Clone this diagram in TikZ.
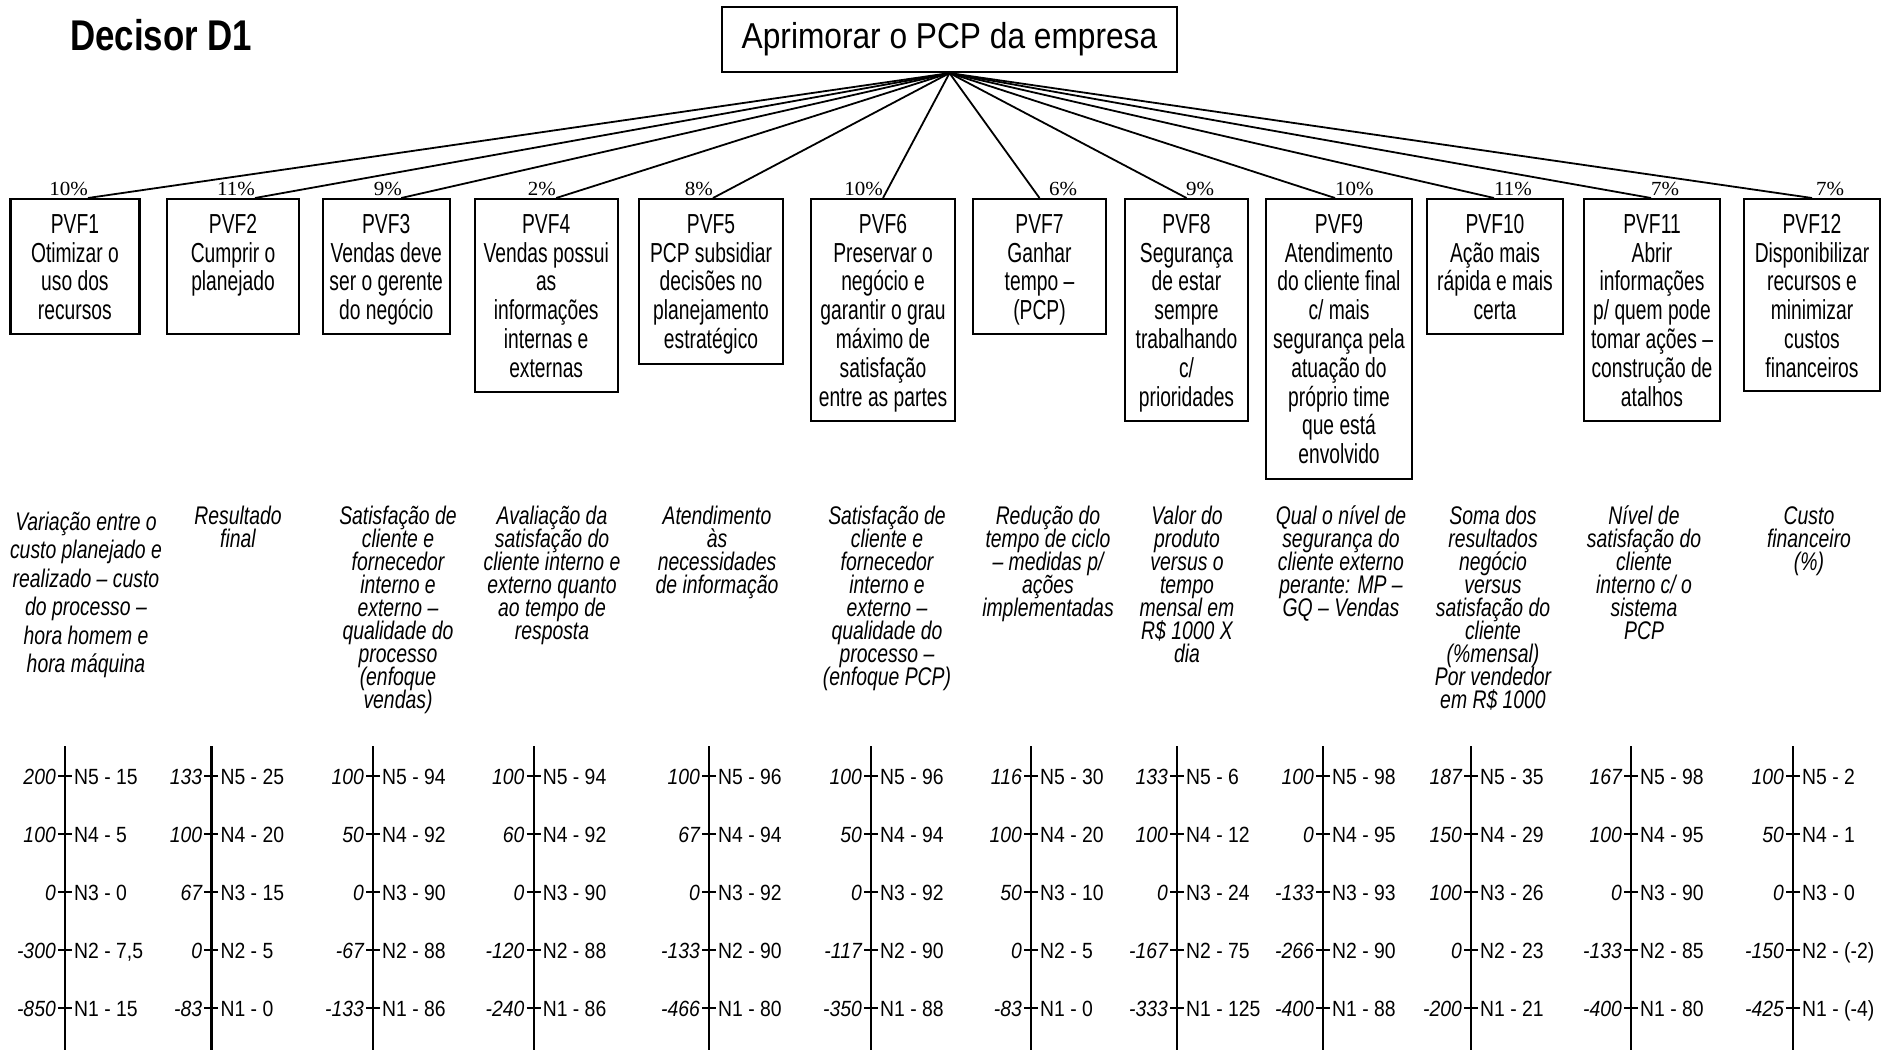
\documentclass[tikz,border=0pt]{standalone}
\usepackage{fontspec}
\setmainfont{Liberation Sans}[FakeStretch=0.88]
\newfontfamily\boxfont{Liberation Sans}[FakeStretch=0.70]
\newfontfamily\critfont{Liberation Sans}[FakeStretch=0.76]
\newfontfamily\titlefont{Liberation Sans}[FakeStretch=0.81]
\newfontfamily\pctfont{Liberation Serif}[FakeStretch=1.05]
\newcommand\firstln{\rule{0pt}{24pt}}
\newcommand\tightlines{\lineskiplimit-100pt\relax}
\newcommand{\scalecol}[3]{%
  \coordinate (ax#1t) at (#2,746);
  \coordinate (ax#1b) at (#2,1050);
  \draw[axis] (ax#1t) -- (ax#1b);
  \foreach \l/\r [count=\k] in {#3} {
    \pgfmathtruncatemacro\lev{6-\k}
    \pgfmathsetmacro\yy{776+(\k-1)*58}
    \coordinate (tk#1x\k) at (#2,\yy);
    \draw[axis] ([xshift=-7pt]tk#1x\k) -- ([xshift=7pt]tk#1x\k);
    \node[lft] (lv#1x\k) at ([xshift=-9pt,yshift=-8pt]tk#1x\k) {\l};
    \node[rgt] (rv#1x\k) at ([xshift=9pt,yshift=-8pt]tk#1x\k) {N\lev\ - \r};
  }
}
\begin{document}
\begin{tikzpicture}[x=1pt,y=-1pt,
  conn/.style={line width=1.8pt},
  topbox/.style={draw, line width=2.2pt, inner sep=0pt, minimum width=455pt, minimum height=65pt, font=\fontsize{36}{40}\selectfont},
  pvfbox/.style={draw, line width=2.2pt, inner sep=0pt, anchor=north},
  pvftext/.style={inner sep=0pt, anchor=north, align=center, font=\boxfont\fontsize{27.5}{28.8}\selectfont\tightlines},
  crit/.style={inner sep=0pt, anchor=north, align=center, font=\critfont\fontsize{25.5}{23}\selectfont\itshape\tightlines},
  pct/.style={inner sep=0pt, font=\pctfont\fontsize{20}{22}\selectfont},
  axis/.style={line width=2.2pt},
  lft/.style={inner sep=0pt, anchor=base east, font=\fontsize{22}{24}\selectfont\itshape},
  rgt/.style={inner sep=0pt, anchor=base west, font=\fontsize{22}{24}\selectfont},
]
\useasboundingbox (0,0) rectangle (1892,1050);

\node[inner sep=0pt, anchor=base west, font=\titlefont\fontsize{43}{46}\selectfont\bfseries] (title) at (70,50) {Decisor D1};
\node[topbox] (top) at (949.5,39.5) {Aprimorar o PCP da empresa};

% PVF boxes
\node[pvfbox, minimum width=129pt, minimum height=135pt] (b1) at (74.9,198) {};
\node[pvfbox, minimum width=132.6pt, minimum height=135pt] (b2) at (233,198) {};
\node[pvfbox, minimum width=127pt, minimum height=135pt] (b3) at (386.2,198) {};
\node[pvfbox, minimum width=143pt, minimum height=193pt] (b4) at (546.2,198) {};
\node[pvfbox, minimum width=144pt, minimum height=165pt] (b5) at (711,198) {};
\node[pvfbox, minimum width=144pt, minimum height=222pt] (b6) at (883,198) {};
\node[pvfbox, minimum width=133pt, minimum height=135pt] (b7) at (1039.5,198) {};
\node[pvfbox, minimum width=123pt, minimum height=222pt] (b8) at (1186.5,198) {};
\node[pvfbox, minimum width=146pt, minimum height=280pt] (b9) at (1339,198) {};
\node[pvfbox, minimum width=136.5pt, minimum height=135pt] (b10) at (1495,198) {};
\node[pvfbox, minimum width=136pt, minimum height=222pt] (b11) at (1652,198) {};
\node[pvfbox, minimum width=136pt, minimum height=192pt] (b12) at (1812,198) {};

\node[pvftext] (t1) at (74.9,209) {\firstln PVF1\\Otimizar o\\uso dos\\recursos};
\node[pvftext] (t2) at (233,209) {\firstln PVF2\\Cumprir o\\planejado};
\node[pvftext] (t3) at (386.2,209) {\firstln PVF3\\Vendas deve\\ser o gerente\\do negócio};
\node[pvftext] (t4) at (546.2,209) {\firstln PVF4\\Vendas possui\\as\\informações\\internas e\\externas};
\node[pvftext] (t5) at (711,209) {\firstln PVF5\\PCP subsidiar\\decisões no\\planejamento\\estratégico};
\node[pvftext] (t6) at (883,209) {\firstln PVF6\\Preservar o\\negócio e\\garantir o grau\\máximo de\\satisfação\\entre as partes};
\node[pvftext] (t7) at (1039.5,209) {\firstln PVF7\\Ganhar\\tempo –\\(PCP)};
\node[pvftext] (t8) at (1186.5,209) {\firstln PVF8\\Segurança\\de estar\\sempre\\trabalhando\\c/\\prioridades};
\node[pvftext] (t9) at (1339,209) {\firstln PVF9\\Atendimento\\do cliente final\\c/ mais\\segurança pela\\atuação do\\próprio time\\que está\\envolvido};
\node[pvftext] (t10) at (1495,209) {\firstln PVF10\\Ação mais\\rápida e mais\\certa};
\node[pvftext] (t11) at (1652,209) {\firstln PVF11\\Abrir\\informações\\p/ quem pode\\tomar ações –\\construção de\\atalhos};
\node[pvftext] (t12) at (1812,209) {\firstln PVF12\\Disponibilizar\\recursos e\\minimizar\\custos\\financeiros};

% connectors
\foreach \n/\dx in {1/13,2/22,3/15,4/10,5/2,6/0,7/0,8/0,9/-4,10/-1,11/-1,12/0}
  \draw[conn] (top.south) -- ([xshift=\dx pt]b\n.north);

% percentages
\node[pct, anchor=base east] (p1) at (88,195) {10\%};
\node[pct, anchor=base east] (p2) at (255,195) {11\%};
\node[pct, anchor=base east] (p3) at (402,195) {9\%};
\node[pct, anchor=base east] (p4) at (556,195) {2\%};
\node[pct, anchor=base east] (p5) at (713,195) {8\%};
\node[pct, anchor=base east] (p6) at (883,195) {10\%};
\node[pct, anchor=base west] (p7) at (1049,195) {6\%};
\node[pct, anchor=base west] (p8) at (1186,195) {9\%};
\node[pct, anchor=base west] (p9) at (1335,195) {10\%};
\node[pct, anchor=base west] (p10) at (1494,195) {11\%};
\node[pct, anchor=base west] (p11) at (1651,195) {7\%};
\node[pct, anchor=base west] (p12) at (1816,195) {7\%};

% criteria
\node[crit, font=\critfont\fontsize{25.5}{28.5}\selectfont\itshape\tightlines] (c1) at (86,506) {\firstln Variação entre o\\custo planejado e\\realizado – custo\\do processo –\\hora homem e\\hora máquina};
\node[crit] (c2) at (238,500) {\firstln Resultado\\final};
\node[crit] (c3) at (398,500) {\firstln Satisfação de\\cliente e\\fornecedor\\interno e\\externo –\\qualidade do\\processo\\(enfoque\\vendas)};
\node[crit] (c4) at (552,500) {\firstln Avaliação da\\satisfação do\\cliente interno e\\externo quanto\\ao tempo de\\resposta};
\node[crit] (c5) at (717,500) {\firstln Atendimento\\às\\necessidades\\de informação};
\node[crit] (c6) at (887,500) {\firstln Satisfação de\\cliente e\\fornecedor\\interno e\\externo –\\qualidade do\\processo –\\(enfoque PCP)};
\node[crit] (c7) at (1048,500) {\firstln Redução do\\tempo de ciclo\\– medidas p/\\ações\\implementadas};
\node[crit] (c8) at (1187,500) {\firstln Valor do\\produto\\versus o\\tempo\\mensal em\\R\$ 1000 X\\dia};
\node[crit] (c9) at (1341,500) {\firstln Qual o nível de\\segurança do\\cliente externo\\perante: MP –\\GQ – Vendas};
\node[crit] (c10) at (1493,500) {\firstln Soma dos\\resultados\\negócio\\versus\\satisfação do\\cliente\\(\%mensal)\\Por vendedor\\em R\$ 1000};
\node[crit] (c11) at (1644,500) {\firstln Nível de\\satisfação do\\cliente\\interno c/ o\\sistema\\PCP};
\node[crit] (c12) at (1809,500) {\firstln Custo\\financeiro\\(\%)};

% scales
\scalecol{1}{65}{200/15, 100/5, 0/0, -300/{7,5}, -850/15}
\scalecol{2}{211.4}{133/25, 100/20, 67/15, 0/5, -83/0}
\scalecol{3}{373}{100/94, 50/92, 0/90, -67/88, -133/86}
\scalecol{4}{533.6}{100/94, 60/92, 0/90, -120/88, -240/86}
\scalecol{5}{709}{100/96, 67/94, 0/92, -133/90, -466/80}
\scalecol{6}{871}{100/96, 50/94, 0/92, -117/90, -350/88}
\scalecol{7}{1031}{116/30, 100/20, 50/10, 0/5, -83/0}
\scalecol{8}{1177}{133/6, 100/12, 0/24, -167/75, -333/125}
\scalecol{9}{1323}{100/98, 0/95, -133/93, -266/90, -400/88}
\scalecol{10}{1471}{187/35, 150/29, 100/26, 0/23, -200/21}
\scalecol{11}{1631}{167/98, 100/95, 0/90, -133/85, -400/80}
\scalecol{12}{1793}{100/2, 50/1, 0/0, -150/(-2), -425/(-4)}
\end{tikzpicture}
\end{document}
